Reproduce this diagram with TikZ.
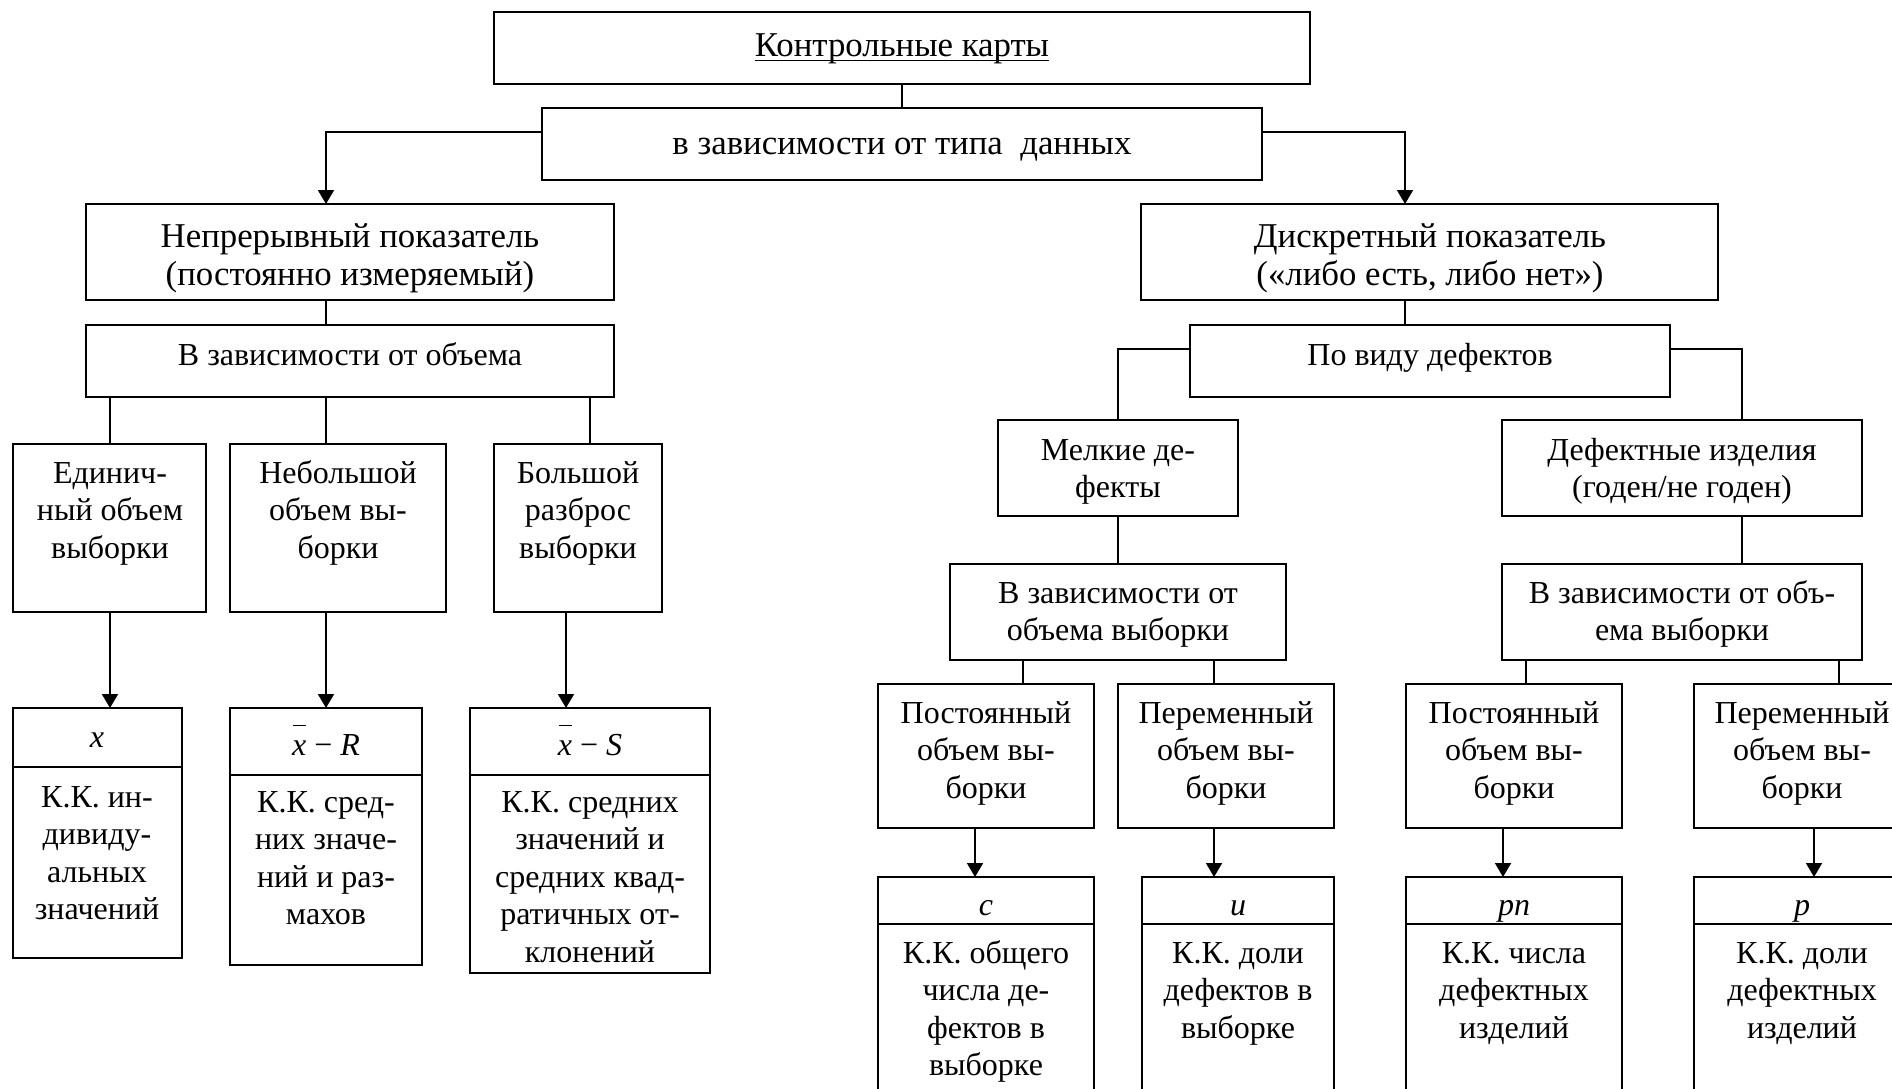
\documentclass[tikz,border=0pt]{standalone}
\usepackage{fontspec}
\setmainfont{Liberation Serif}
\usetikzlibrary{arrows.meta,calc}
\newcommand\myul[1]{\setbox0\hbox{#1}\rlap{\rule[-5pt]{\wd0}{1.6pt}}\box0}
\newcommand\xbar{\makebox[0pt][l]{\hspace{1pt}\raisebox{29pt}[0pt][0pt]{\rule{13pt}{1.5pt}}}\textit{x}}
\newcommand\mkbox[5]{\node[bx, minimum width={#4-#2}, minimum height={#5-#3}] (#1) at ({(#2+#4)/2},{(#3+#5)/2}) {};}
\newcommand\tx[4]{\node[txt, anchor=north] (#1) at ({#2},{#3-26.25}) {\rule{0pt}{26.25pt}#4};}
\newcommand\txL[4]{\node[txtL, anchor=north] (#1) at ({#2},{#3-27}) {\rule{0pt}{27pt}#4};}
\begin{document}
\begin{tikzpicture}[x=1pt,y=-1pt,
  bx/.style={draw, line width=1.8pt, inner sep=0pt, outer sep=0pt},
  ln/.style={line width=1.3pt},
  arr/.style={line width=1.8pt, -{Triangle[length=14pt,width=16pt]}},
  txt/.style={align=center, inner sep=0pt, font=\fontsize{32}{37.5}\selectfont},
  txtL/.style={align=center, inner sep=0pt, font=\fontsize{34.8}{38.5}\selectfont}]
\useasboundingbox (0,0) rectangle (1892,1088);
\fill[white] (0,0) rectangle (1892,1088);
\clip (0,0) rectangle (1892,1088);
% boxes
\mkbox{top}{494}{12}{1310}{84}
\mkbox{dep}{542}{108}{1262}{180}
\mkbox{cont}{86}{204}{614}{300}
\mkbox{vol}{86}{325}{614}{397}
\mkbox{disc}{1141}{204}{1718}{300}
\mkbox{kind}{1190}{325}{1670}{397}
\mkbox{e1}{13}{444}{206}{612}
\mkbox{e2}{230}{444}{446}{612}
\mkbox{e3}{494}{444}{662}{612}
\mkbox{h1}{13}{708}{182}{767}
\mkbox{b1}{13}{767}{182}{958}
\mkbox{h2}{230}{708}{422}{775}
\mkbox{b2}{230}{775}{422}{965}
\mkbox{h3}{470}{708}{710}{775}
\mkbox{b3}{470}{775}{710}{973}
\mkbox{m}{998}{420}{1238}{516}
\mkbox{d}{1502}{420}{1862}{516}
\mkbox{dl}{950}{564}{1286}{660}
\mkbox{dr}{1502}{564}{1862}{660}
\mkbox{pl}{878}{684}{1094}{828}
\mkbox{vl}{1118}{684}{1334}{828}
\mkbox{pr}{1406}{684}{1622}{828}
\mkbox{vr}{1694}{684}{1910}{828}
\mkbox{hc}{878}{877}{1094}{924}
\mkbox{bc}{878}{924}{1094}{1120}
\mkbox{hu}{1142}{877}{1334}{924}
\mkbox{bu}{1142}{924}{1334}{1120}
\mkbox{hpn}{1406}{877}{1622}{924}
\mkbox{bpn}{1406}{924}{1622}{1120}
\mkbox{hp}{1694}{877}{1910}{924}
\mkbox{bp}{1694}{924}{1910}{1120}
% texts
\txL{t0}{902}{56}{\myul{Контрольные карты}}
\txL{t1}{902}{154}{в зависимости от типа \ данных}
\txL{t2}{350}{247}{Непрерывный показатель\\(постоянно измеряемый)}
\tx{t3}{350}{365}{В зависимости от объема}
\txL{t4}{1430}{247}{Дискретный показатель\\(«либо есть, либо нет»)}
\tx{t5}{1430}{365}{По виду дефектов}
\tx{t6}{110}{483}{Единич-\\ный объем\\выборки}
\tx{t7}{338}{483}{Небольшой\\объем вы-\\борки}
\tx{t8}{578}{483}{Большой\\разброс\\выборки}
\tx{t9}{97}{747}{\textit{x}}
\tx{t10}{97}{807}{К.К. ин-\\дивиду-\\альных\\значений}
\tx{t11}{326}{755}{\xbar{} − \textit{R}}
\tx{t12}{326}{812}{К.К. сред-\\них значе-\\ний и раз-\\махов}
\tx{t13}{590}{755}{\xbar{} − \textit{S}}
\tx{t14}{590}{812}{К.К. средних\\значений и\\средних квад-\\ратичных от-\\клонений}
\tx{t15}{1118}{460}{Мелкие де-\\фекты}
\tx{t16}{1682}{460}{Дефектные изделия\\(годен/не годен)}
\tx{t17}{1118}{603}{В зависимости от\\объема выборки}
\tx{t18}{1682}{603}{В зависимости от объ-\\ема выборки}
\tx{t19}{986}{723}{Постоянный\\объем вы-\\борки}
\tx{t20}{1226}{723}{Переменный\\объем вы-\\борки}
\tx{t21}{1514}{723}{Постоянный\\объем вы-\\борки}
\tx{t22}{1802}{723}{Переменный\\объем вы-\\борки}
\tx{t23}{986}{915}{\textit{c}}
\tx{t24}{986}{963}{К.К. общего\\числа де-\\фектов в\\выборке}
\tx{t25}{1238}{915}{\textit{u}}
\tx{t26}{1238}{963}{К.К. доли\\дефектов в\\выборке}
\tx{t27}{1514}{915}{\textit{pn}}
\tx{t28}{1514}{963}{К.К. числа\\дефектных\\изделий}
\tx{t29}{1802}{915}{\textit{p}}
\tx{t30}{1802}{963}{К.К. доли\\дефектных\\изделий}
% junction coordinates
\coordinate (ja) at (326,132);
\coordinate (jb) at (1405,132);
\coordinate (jc) at (1118,349);
\coordinate (jd) at (1742,349);
\coordinate (k3) at (590,0);
\coordinate (k4) at (566,0);
\coordinate (k5) at (1023,0);
\coordinate (k6) at (1214,0);
\coordinate (k7) at (1526,0);
\coordinate (k8) at (1839,0);
\coordinate (k9) at (975,0);
\coordinate (k10) at (1503,0);
\coordinate (k11) at (1814,0);
\coordinate (k12) at (110,0);
% connectors
\draw[ln] (top.south) -- (top.south |- dep.north);
\draw[arr] (ja -| dep.west) -- (ja) -- (ja |- cont.north);
\draw[arr] (jb -| dep.east) -- (jb) -- (jb |- disc.north);
\draw[ln] (ja |- cont.south) -- (ja |- vol.north);
\draw[ln] (jb |- disc.south) -- (jb |- kind.north);
\draw[ln] (k12 |- vol.south) -- (k12 |- e1.north);
\draw[ln] (ja |- vol.south) -- (ja |- e2.north);
\draw[ln] (k3 |- vol.south) -- (k3 |- e3.north);
\draw[arr] (k12 |- e1.south) -- (k12 |- h1.north);
\draw[arr] (ja |- e2.south) -- (ja |- h2.north);
\draw[arr] (k4 |- e3.south) -- (k4 |- h3.north);
\draw[ln] (jc -| kind.west) -- (jc) -- (jc |- m.north);
\draw[ln] (jd -| kind.east) -- (jd) -- (jd |- d.north);
\draw[ln] (jc |- m.south) -- (jc |- dl.north);
\draw[ln] (jd |- d.south) -- (jd |- dr.north);
\draw[ln] (k5 |- dl.south) -- (k5 |- pl.north);
\draw[ln] (k6 |- dl.south) -- (k6 |- vl.north);
\draw[ln] (k7 |- dr.south) -- (k7 |- pr.north);
\draw[ln] (k8 |- dr.south) -- (k8 |- vr.north);
\draw[arr] (k9 |- pl.south) -- (k9 |- hc.north);
\draw[arr] (k6 |- vl.south) -- (k6 |- hu.north);
\draw[arr] (k10 |- pr.south) -- (k10 |- hpn.north);
\draw[arr] (k11 |- vr.south) -- (k11 |- hp.north);
\end{tikzpicture}
\end{document}
